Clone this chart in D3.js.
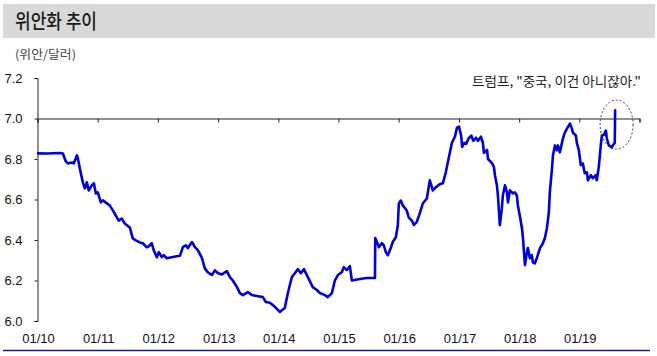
<!DOCTYPE html>
<html><head><meta charset="utf-8">
<script src="https://cdn.jsdelivr.net/npm/d3@7"></script>
<style>
html,body{margin:0;padding:0;background:#fff;}
svg{display:block;}
</style></head>
<body>
<svg id="c" width="657" height="356"></svg>
<script>
// ---- data (one line per year; dates and values line up) ----
const dates = [
"2010-01-04","2010-03-01","2010-05-16","2010-06-04","2010-06-22","2010-07-04","2010-07-28","2010-08-09","2010-08-28","2010-09-03","2010-09-21","2010-10-03","2010-10-15","2010-10-27","2010-11-08","2010-11-26","2010-12-09","2010-12-21",
"2011-01-02","2011-01-20","2011-02-01","2011-02-26","2011-03-15","2011-04-03","2011-04-21","2011-05-09","2011-05-27","2011-06-14","2011-07-15","2011-08-02","2011-08-20","2011-09-14","2011-10-02","2011-10-26","2011-11-07","2011-11-25","2011-12-07","2011-12-26",
"2012-01-07","2012-01-25","2012-02-06","2012-02-24","2012-03-25","2012-04-25","2012-05-14","2012-06-01","2012-06-19","2012-07-01","2012-07-26","2012-08-13","2012-08-31","2012-09-25","2012-10-12","2012-10-31","2012-11-24","2012-12-12","2012-12-31",
"2013-01-24","2013-02-23","2013-03-13","2013-03-31","2013-04-25","2013-05-13","2013-05-31","2013-06-30","2013-07-25","2013-08-24","2013-09-29","2013-10-17","2013-11-11","2013-12-11",
"2014-01-10","2014-02-09","2014-02-28","2014-03-24","2014-04-11","2014-04-29","2014-05-18","2014-06-05","2014-06-29","2014-07-29","2014-08-23","2014-09-10","2014-10-10","2014-10-28","2014-11-22","2014-12-10","2014-12-28",
"2015-01-21","2015-02-02","2015-02-20","2015-03-11","2015-03-23","2015-05-10","2015-06-22","2015-08-10","2015-08-12","2015-08-22","2015-09-03","2015-09-21","2015-10-03","2015-10-15","2015-10-27","2015-11-14","2015-11-26","2015-12-15","2015-12-27",
"2016-01-02","2016-01-14","2016-01-26","2016-02-19","2016-03-02","2016-03-21","2016-04-02","2016-04-20","2016-05-08","2016-05-26","2016-06-20","2016-07-08","2016-07-26","2016-08-13","2016-09-06","2016-09-25","2016-10-13","2016-10-25","2016-11-19","2016-12-07","2016-12-20",
"2017-01-01","2017-01-14","2017-01-20","2017-02-02","2017-02-14","2017-02-27","2017-03-17","2017-03-29","2017-04-14","2017-04-26","2017-05-14","2017-05-26","2017-06-01","2017-06-20","2017-06-26","2017-07-20","2017-08-01","2017-08-07","2017-08-19","2017-08-25","2017-09-06","2017-09-18","2017-09-24","2017-10-07","2017-10-19","2017-10-25","2017-11-06","2017-11-24","2017-12-06","2017-12-18","2017-12-24",
"2018-01-05","2018-01-18","2018-01-24","2018-02-05","2018-02-17","2018-02-23","2018-03-07","2018-03-19","2018-03-25","2018-04-06","2018-04-18","2018-05-07","2018-05-25","2018-06-06","2018-06-18","2018-06-30","2018-07-06","2018-07-19","2018-07-25","2018-08-06","2018-08-18","2018-08-24","2018-09-05","2018-09-23","2018-10-05","2018-10-18","2018-11-05","2018-11-17","2018-11-23","2018-12-11","2018-12-17","2018-12-29",
"2019-01-10","2019-01-22","2019-02-03","2019-02-16","2019-02-22","2019-03-12","2019-03-24","2019-04-11","2019-04-17","2019-04-29","2019-05-11","2019-05-18","2019-05-30","2019-06-11","2019-06-17","2019-06-29","2019-07-17","2019-07-23","2019-08-04","2019-08-06"
];
const cny = [
6.828,6.827,6.830,6.827,6.788,6.778,6.783,6.778,6.818,6.803,6.729,6.685,6.655,6.685,6.645,6.670,6.680,6.630,
6.635,6.586,6.596,6.581,6.571,6.546,6.521,6.496,6.506,6.482,6.462,6.408,6.398,6.388,6.384,6.364,6.369,6.384,6.350,6.315,
6.340,6.315,6.325,6.310,6.315,6.320,6.322,6.365,6.374,6.360,6.390,6.365,6.350,6.310,6.260,6.240,6.227,6.250,6.236,
6.230,6.246,6.217,6.200,6.167,6.138,6.128,6.143,6.128,6.123,6.118,6.094,6.090,6.070,
6.045,6.064,6.138,6.217,6.236,6.256,6.236,6.256,6.217,6.167,6.153,6.138,6.128,6.118,6.138,6.200,6.227,
6.241,6.266,6.251,6.271,6.200,6.207,6.212,6.212,6.410,6.390,6.365,6.384,6.374,6.340,6.325,6.360,6.390,6.414,6.473,
6.580,6.595,6.571,6.546,6.511,6.496,6.474,6.490,6.531,6.580,6.605,6.695,6.645,6.660,6.675,6.680,6.734,6.783,6.880,6.910,6.955,
6.960,6.915,6.860,6.880,6.875,6.900,6.915,6.890,6.905,6.890,6.910,6.880,6.830,6.845,6.800,6.780,6.760,6.720,6.670,6.620,6.473,6.557,6.620,6.670,6.635,6.586,6.645,6.630,6.635,6.620,6.571,
6.520,6.457,6.410,6.276,6.340,6.360,6.310,6.325,6.290,6.285,6.310,6.360,6.384,6.410,6.457,6.536,6.635,6.753,6.818,6.867,6.843,6.867,6.833,6.900,6.930,6.950,6.975,6.950,6.930,6.916,6.880,6.843,
6.770,6.778,6.730,6.734,6.695,6.720,6.705,6.720,6.695,6.760,6.867,6.916,6.920,6.940,6.900,6.867,6.857,6.867,6.880,7.040
];
const yTicks = [6.0, 6.2, 6.4, 6.6, 6.8, 7.0, 7.2];
const xTickLabels = ["01/10","01/11","01/12","01/13","01/14","01/15","01/16","01/17","01/18","01/19"];
const titleText = "위안화 추이";
const unitText = "(위안/달러)";
const noteText = "트럼프, \"중국, 이건 아니잖아.\"";

// ---- drawing ----
const svg = d3.select("#c");
const parse = d3.timeParse("%Y-%m-%d");
const series = dates.map((d, i) => ({ date: parse(d), value: cny[i] }));

const x = d3.scaleTime().domain([new Date(2010,0,1), new Date(2020,0,1)]).range([37.5, 639.5]);
const y = d3.scaleLinear().domain([6.0, 7.2]).range([321, 78]);

// title band
svg.append("rect").attr("x", 3).attr("y", 4).attr("width", 652).attr("height", 34).attr("fill", "#d9d9d9");
svg.append("text").attr("x", 15).attr("y", 29)
  .attr("font-family", "'Noto Sans CJK KR', sans-serif").attr("font-size", 20).attr("font-weight", 500)
  .attr("fill", "#1a1a1a").attr("textLength", 82).attr("lengthAdjust", "spacingAndGlyphs")
  .text(titleText);

svg.append("text").attr("x", 15).attr("y", 59)
  .attr("font-family", "'Noto Sans CJK KR', sans-serif").attr("font-size", 12)
  .attr("fill", "#444").attr("textLength", 61).attr("lengthAdjust", "spacingAndGlyphs")
  .text(unitText);

const numFont = "'Liberation Sans Narrow', 'Arial Narrow', 'Liberation Sans', Arial, sans-serif";

// y axis
const yAxis = svg.append("g").attr("transform", "translate(37.5,0)")
  .call(d3.axisLeft(y).tickValues(yTicks).tickSize(3).tickPadding(12).tickFormat(d3.format(".1f")));
yAxis.selectAll("path,line").attr("stroke", "#222").attr("stroke-width", 1);
yAxis.selectAll("text").attr("font-family", numFont).attr("font-size", 13).attr("fill", "#111");

// x axis along 7.0
const xAxis = svg.append("g").attr("transform", `translate(0,${y(7.0)})`)
  .call(d3.axisBottom(x).ticks(d3.timeYear.every(1)).tickSize(4).tickSizeOuter(4).tickFormat(""));
xAxis.selectAll("path,line").attr("stroke", "#222").attr("stroke-width", 1);

// x labels
const labelYears = xTickLabels.map((t, i) => ({ t, date: new Date(2010 + i, 0, 1) }));
svg.append("g").selectAll("text").data(labelYears).join("text")
  .attr("x", d => x(d.date) + 1).attr("y", 343)
  .attr("text-anchor", "middle")
  .attr("font-family", numFont).attr("font-size", 13).attr("fill", "#111")
  .text(d => d.t);

// line
svg.append("path").datum(series)
  .attr("fill", "none").attr("stroke", "#0000dd").attr("stroke-width", 2.6)
  .attr("stroke-linejoin", "round").attr("stroke-linecap", "round")
  .attr("d", d3.line().x(d => x(d.date)).y(d => y(d.value)));

// highlight ellipse
svg.append("ellipse")
  .attr("cx", x(new Date(2019,7,15))).attr("cy", y(6.97))
  .attr("rx", 16.5).attr("ry", 24.5)
  .attr("fill", "none").attr("stroke", "#2a2aa8").attr("stroke-width", 1).attr("stroke-dasharray", "2,2");

// note
svg.append("text").attr("x", 641).attr("y", 86).attr("text-anchor", "end")
  .attr("font-family", "'Noto Sans CJK KR', sans-serif").attr("font-size", 13)
  .attr("fill", "#222").attr("textLength", 169).attr("lengthAdjust", "spacingAndGlyphs")
  .text(noteText);

// bottom rule
svg.append("line").attr("x1", 3).attr("x2", 650).attr("y1", 350.5).attr("y2", 350.5)
  .attr("stroke", "#1c1c8c").attr("stroke-width", 1.5);
</script>
</body></html>
